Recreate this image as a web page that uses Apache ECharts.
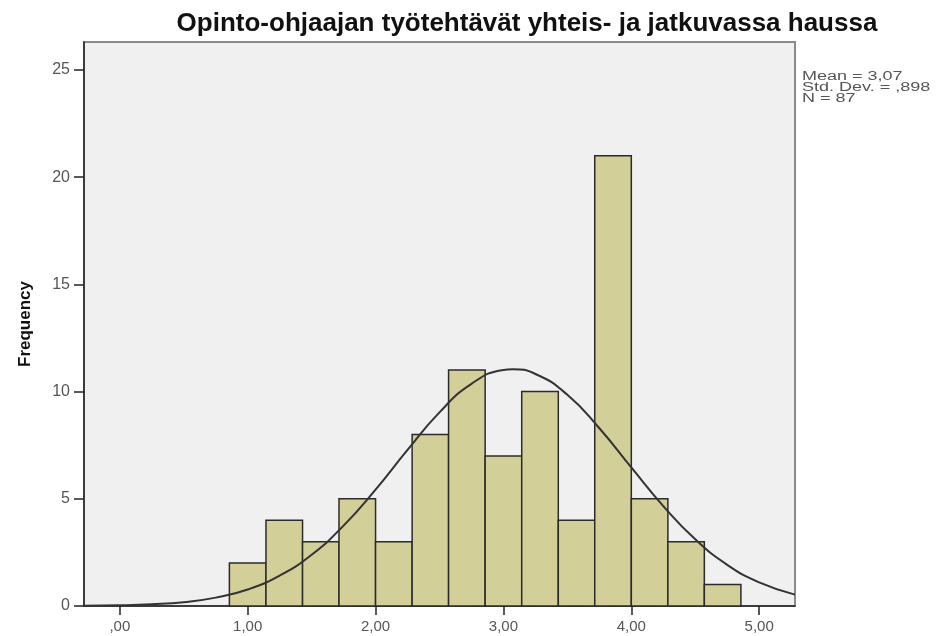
<!DOCTYPE html>
<html>
<head>
<meta charset="utf-8">
<script src="https://cdn.jsdelivr.net/npm/echarts@6/dist/echarts.min.js"></script>
<style>
  html, body { margin: 0; padding: 0; background: #fff; }
  #chart { width: 937px; height: 636px; }
</style>
</head>
<body>
<div id="chart"></div>
<script>
// histogram bins (edges) and counts
var binEdges = [0.857, 1.143, 1.429, 1.714, 2.0, 2.286, 2.571, 2.857, 3.143, 3.429, 3.714, 4.0, 4.286, 4.571, 4.857];
var counts = [2, 4, 3, 5, 3, 8, 11, 7, 10, 4, 21, 5, 3, 1];

// normal curve
var curveX = [-0.28, 0, 0.25, 0.5, 0.75, 1.0, 1.25, 1.5, 1.75, 2.0, 2.25, 2.5, 2.75, 3.0, 3.07, 3.25, 3.5, 3.75, 4.0, 4.25, 4.5, 4.75, 5.0, 5.28];
var curveY = [0.01, 0.03, 0.08, 0.18, 0.39, 0.77, 1.42, 2.39, 3.75, 5.43, 7.28, 9.03, 10.36, 11.01, 11.04, 10.82, 9.85, 8.29, 6.46, 4.66, 3.11, 1.92, 1.1, 0.53];

var xTicks = [0, 1, 2, 3, 4, 5];
var xTickLabels = [',00', '1,00', '2,00', '3,00', '4,00', '5,00'];
var yTicks = [0, 5, 10, 15, 20, 25];
var statsLines = ['Mean = 3,07', 'Std. Dev. = ,898', 'N = 87'];

var barData = counts.map(function (c, i) { return [binEdges[i], binEdges[i + 1], c]; });
var lineData = curveX.map(function (x, i) { return [x, curveY[i]]; });

var myChart = echarts.init(document.getElementById('chart'));
myChart.setOption({
  backgroundColor: '#fff',
  animation: false,
  title: {
    text: 'Opinto-ohjaajan työtehtävät yhteis- ja jatkuvassa haussa',
    left: 522,
    textAlign: 'center',
    top: 6,
    textStyle: {
      fontFamily: 'Liberation Sans',
      fontWeight: 'bold',
      fontSize: 26,
      color: '#111'
    }
  },
  grid: {
    left: 84,
    right: 142,
    top: 42,
    bottom: 30,
    show: true,
    backgroundColor: '#f0f0f0',
    borderColor: '#8a8a8a',
    borderWidth: 2
  },
  xAxis: {
    type: 'value',
    min: -0.28,
    max: 5.28,
    splitLine: { show: false },
    axisLine: { onZero: false, lineStyle: { color: '#222', width: 1.5 } },
    axisTick: {
      show: true,
      customValues: xTicks,
      length: 9,
      lineStyle: { color: '#222', width: 1.5 }
    },
    axisLabel: {
      customValues: xTicks,
      margin: 13,
      color: '#555',
      fontFamily: 'Liberation Sans',
      fontSize: 15,
      formatter: function (v) {
        var i = xTicks.indexOf(v);
        return i >= 0 ? xTickLabels[i] : '';
      }
    }
  },
  yAxis: {
    type: 'value',
    min: 0,
    max: 26.3,
    name: 'Frequency',
    nameLocation: 'middle',
    nameRotate: 90,
    nameGap: 50,
    nameTextStyle: {
      fontFamily: 'Liberation Sans',
      fontWeight: 'bold',
      fontSize: 17,
      color: '#111'
    },
    splitLine: { show: false },
    axisLine: { show: true, onZero: false, lineStyle: { color: '#222', width: 1.5 } },
    axisTick: {
      show: true,
      customValues: yTicks,
      length: 10,
      lineStyle: { color: '#222', width: 1.5 }
    },
    axisLabel: {
      customValues: yTicks,
      margin: 14,
      color: '#555',
      fontFamily: 'Liberation Sans',
      fontSize: 16
    }
  },
  graphic: [{
    type: 'text',
    x: 802,
    y: 71,
    scaleX: 1.5,
    style: {
      text: statsLines.join('\n'),
      fontFamily: 'Liberation Sans',
      fontSize: 12,
      lineHeight: 11,
      verticalAlign: 'top',
      fill: '#555'
    }
  }],
  series: [
    {
      type: 'custom',
      data: barData,
      encode: { x: [0, 1], y: 2 },
      renderItem: function (params, api) {
        var p0 = api.coord([api.value(0), 0]);
        var p1 = api.coord([api.value(1), api.value(2)]);
        return {
          type: 'rect',
          shape: { x: p0[0], y: p1[1], width: p1[0] - p0[0], height: p0[1] - p1[1] },
          style: { fill: '#d3cf98', stroke: '#2b2b2b', lineWidth: 1.5 }
        };
      },
      z: 2
    },
    {
      type: 'line',
      data: lineData,
      smooth: true,
      showSymbol: false,
      lineStyle: { color: '#333', width: 2 },
      z: 3
    }
  ]
});
</script>
</body>
</html>
